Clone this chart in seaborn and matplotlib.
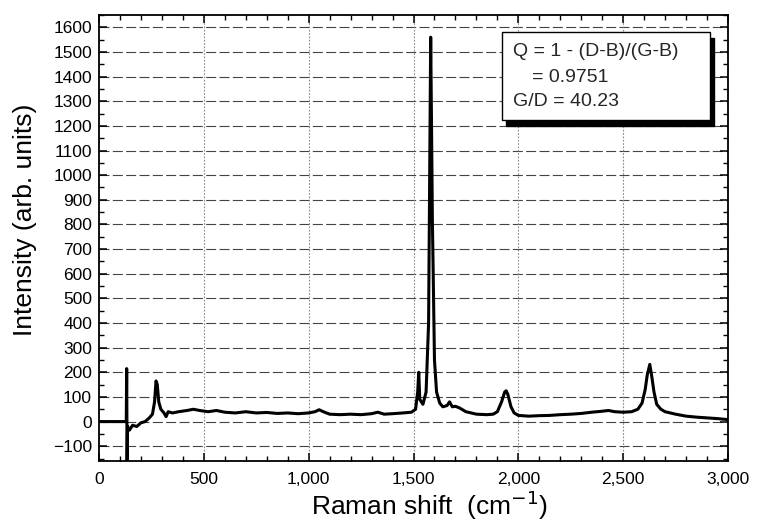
import matplotlib
matplotlib.use("Agg")
import matplotlib.pyplot as plt
import seaborn as sns
import pandas as pd
from matplotlib.ticker import MultipleLocator, FixedLocator, FixedFormatter
from matplotlib.patches import Rectangle

# ---- data ----
raman_shift = [0, 130, 132, 134, 136, 145, 160, 180, 200, 220, 240, 255, 265, 272, 278,
               285, 295, 310, 320, 330, 350, 380, 420, 450, 480, 520, 560, 600, 650, 700,
               750, 800, 850, 900, 950, 1000, 1030, 1050, 1070, 1100, 1150, 1200, 1250,
               1300, 1330, 1360, 1400, 1450, 1490, 1510, 1520, 1525, 1530, 1545, 1560,
               1572, 1578, 1582, 1586, 1590, 1594, 1600, 1610, 1625, 1640, 1660, 1672,
               1685, 1700, 1720, 1750, 1800, 1850, 1880, 1900, 1920, 1935, 1942, 1950,
               1965, 1980, 2000, 2050, 2100, 2150, 2200, 2250, 2300, 2350, 2400, 2430,
               2460, 2500, 2540, 2570, 2590, 2605, 2615, 2627, 2637, 2647, 2660, 2680,
               2700, 2750, 2800, 2850, 2900, 2950, 3000]
intensity = [0, 0, 215, -165, -20, -35, -15, -20, -5, 0, 15, 30, 80, 165, 150,
             80, 50, 35, 20, 40, 35, 40, 45, 50, 45, 40, 45, 38, 35, 40,
             35, 37, 33, 35, 32, 35, 40, 48, 40, 30, 28, 30, 28,
             32, 38, 30, 32, 35, 38, 50, 120, 200, 90, 70, 120,
             400, 1100, 1560, 1200, 820, 600, 250, 120, 75, 60, 65, 80,
             60, 62, 55, 40, 30, 28, 30, 40, 80, 120, 125, 110,
             60, 35, 25, 22, 24, 25, 28, 30, 33, 38, 42, 45,
             40, 38, 40, 50, 75, 130, 190, 232, 180, 120, 70, 50,
             40, 30, 22, 18, 15, 12, 8]

x_ticks = [0, 500, 1000, 1500, 2000, 2500, 3000]
x_tick_labels = ["0", "500", "1,000", "1,500", "2,000", "2,500", "3,000"]
y_ticks = list(range(-100, 1700, 100))
box_lines = ["Q = 1 - (D-B)/(G-B)", "= 0.9751", "G/D = 40.23"]

df = pd.DataFrame({"shift": raman_shift, "intensity": intensity})

sns.set_theme(style="white")
plt.rcParams["font.family"] = ["Liberation Sans", "DejaVu Sans"]

fig = plt.figure(figsize=(7.57, 5.23), dpi=100)
ax = fig.add_axes([99 / 757, 1 - 461 / 523, (728 - 99) / 757, (461 - 15) / 523])

sns.lineplot(data=df, x="shift", y="intensity", estimator=None, sort=False,
             color="black", linewidth=2.2, ax=ax)

ax.set_xlim(0, 3000)
ax.set_ylim(-160, 1650)

ax.xaxis.set_major_locator(FixedLocator(x_ticks))
ax.xaxis.set_major_formatter(FixedFormatter(x_tick_labels))
ax.xaxis.set_minor_locator(MultipleLocator(100))
ax.yaxis.set_major_locator(FixedLocator(y_ticks))
ax.yaxis.set_minor_locator(MultipleLocator(50))

ax.tick_params(which="both", direction="in", top=True, right=True, bottom=True, left=True,
               color="black", labelcolor="black")
ax.tick_params(axis="x", which="major", labelsize=12.5, pad=8)
ax.tick_params(axis="y", which="major", labelsize=12.5, pad=5)
ax.tick_params(which="major", length=6, width=1.1)
ax.tick_params(which="minor", length=3.5, width=1.0)

ax.grid(False)
for yv in y_ticks:
    ax.axhline(yv, color="#444444", linestyle=(0, (9, 3)), linewidth=0.8, zorder=0)
for xv in x_ticks[1:-1]:
    ax.axvline(xv, color="#888888", linestyle=(0, (1.5, 1.5)), linewidth=0.8, zorder=0)

for s in ax.spines.values():
    s.set_color("black")
    s.set_linewidth(1.3)

ax.set_xlabel("Raman shift  (cm$^{-1}$)", fontsize=19, color="black")
ax.set_ylabel("Intensity (arb. units)", fontsize=19, color="black")
ax.xaxis.set_label_coords(0.525, -0.062)
ax.yaxis.set_label_coords(-0.098, 0.54)

# annotation box with drop shadow (figure pixel coordinates)
bx0, bx1, by0, by1 = 502, 710, 32, 120
W, H = 757, 523
shadow = Rectangle(((bx0 + 4) / W, 1 - (by1 + 6) / H), (bx1 - bx0) / W, (by1 - by0) / H,
                   transform=fig.transFigure, facecolor="black", edgecolor="black", zorder=5)
box = Rectangle((bx0 / W, 1 - by1 / H), (bx1 - bx0) / W, (by1 - by0) / H,
                transform=fig.transFigure, facecolor="white", edgecolor="black",
                linewidth=1.0, zorder=6)
fig.patches.extend([shadow, box])
fig.text(513 / W, 1 - 52 / H, box_lines[0], fontsize=14, va="center", ha="left", zorder=7)
fig.text(532 / W, 1 - 78 / H, box_lines[1], fontsize=14, va="center", ha="left", zorder=7)
fig.text(513 / W, 1 - 102 / H, box_lines[2], fontsize=14, va="center", ha="left", zorder=7)

fig.savefig("out.png", dpi=100, facecolor="white")
